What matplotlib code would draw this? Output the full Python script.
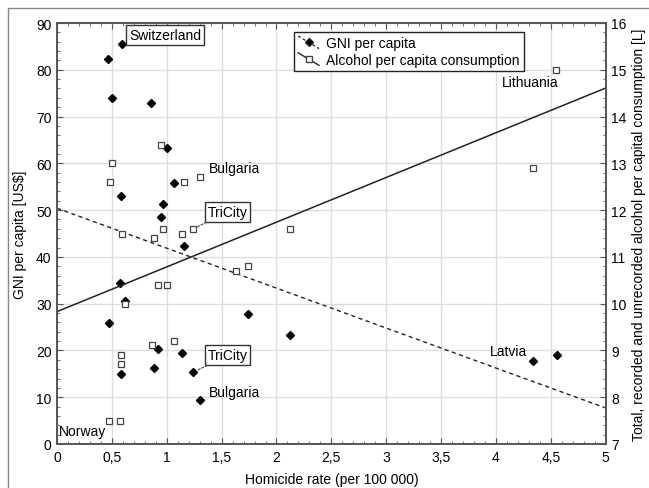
import numpy as np
import matplotlib
matplotlib.use('Agg')
from matplotlib import pyplot as plt
from matplotlib.lines import Line2D
from matplotlib.patches import Rectangle
from matplotlib.legend_handler import HandlerLine2D
from matplotlib.ticker import MultipleLocator, FuncFormatter

plt.rcParams['font.family'] = ['Liberation Sans', 'DejaVu Sans']
plt.rcParams['font.size'] = 9

# homicide rate vs GNI per capita (thousands US$)
gni_x = [0.59, 0.465, 0.50, 0.86, 1.003, 1.07, 0.583, 0.97, 0.948, 1.158, 0.574, 0.62,
         1.74, 0.477, 0.92, 1.14, 0.583, 0.88, 1.24, 1.30, 2.12, 4.34, 4.56]
gni_y = [85.5, 82.4, 73.9, 72.8, 63.2, 55.8, 53.1, 51.3, 48.6, 42.4, 34.5, 30.5,
         27.8, 25.8, 20.4, 19.4, 15.0, 16.2, 15.3, 9.5, 23.2, 17.8, 19.0]

# homicide rate vs alcohol consumption [L]
alc_x = [0.95, 0.50, 0.48, 1.16, 1.30, 0.59, 0.97, 1.14, 1.24, 0.88, 1.63, 1.74,
         0.92, 1.005, 0.62, 0.863, 1.07, 0.583, 0.583, 0.474, 0.574, 2.12, 4.34, 4.55]
alc_y = [13.4, 13.0, 12.6, 12.6, 12.7, 11.5, 11.6, 11.5, 11.6, 11.4, 10.7, 10.8,
         10.4, 10.4, 10.0, 9.11, 9.2, 8.9, 8.7, 7.5, 7.5, 11.6, 12.9, 15.0]

# fitted lines (intercept, slope)
gni_fit = (50.4, -8.54)
alc_fit = (9.83, 0.956)

x_ticks = [0, 0.5, 1, 1.5, 2, 2.5, 3, 3.5, 4, 4.5, 5]
gni_ticks = [0, 10, 20, 30, 40, 50, 60, 70, 80, 90]
alc_ticks = [7, 8, 9, 10, 11, 12, 13, 14, 15, 16]


class DiagHandler(HandlerLine2D):
    # legend sample drawn as a short falling line with the marker in the middle
    def create_artists(self, legend, orig_handle, xdescent, ydescent,
                       width, height, fontsize, trans):
        xs = [-xdescent, -xdescent + width]
        ys = [height - ydescent + 1, -ydescent - 1]
        line = Line2D(xs, ys)
        self.update_prop(line, orig_handle, legend)
        line.set_marker('None')
        mk = Line2D([np.mean(xs)], [np.mean(ys)])
        self.update_prop(mk, orig_handle, legend)
        mk.set_linestyle('None')
        line.set_transform(trans)
        mk.set_transform(trans)
        return [line, mk]


fig = plt.figure(figsize=(6.49, 4.89), dpi=100)
ax = fig.add_axes([57 / 649, 1 - 445 / 489, (605.7 - 57) / 649, (445 - 24) / 489])
ax2 = ax.twinx()

fig.patches.append(Rectangle((8 / 649, -0.1), 1.2, 1 - 9 / 489 + 0.1,
                             transform=fig.transFigure, fill=False,
                             edgecolor='#888888', lw=1.0))

xs = np.array([0, 5])
ax.plot(xs, gni_fit[0] + gni_fit[1] * xs, color='#222222', lw=1.0,
        ls=(0, (3, 2.5)), zorder=2)
ax2.plot(xs, alc_fit[0] + alc_fit[1] * xs, color='#222222', lw=1.1, zorder=2)

ax.plot(gni_x, gni_y, ls='None', marker='D', ms=4.2, color='black', zorder=3)
ax2.plot(alc_x, alc_y, ls='None', marker='s', ms=4.4, mfc='white',
         mec='#444444', mew=0.9, zorder=3)

ax.set_xlim(0, 5)
ax.set_ylim(0, 90)
ax2.set_ylim(7, 16)
ax.set_xticks(x_ticks)
ax.set_yticks(gni_ticks)
ax2.set_yticks(alc_ticks)
comma = FuncFormatter(lambda v, p: f'{v:g}'.replace('.', ','))
ax.xaxis.set_major_formatter(comma)
ax.xaxis.set_minor_locator(MultipleLocator(0.1))
ax.yaxis.set_minor_locator(MultipleLocator(2))
ax2.yaxis.set_minor_locator(MultipleLocator(0.2))

ax.grid(True, which='major', color='#dddddd', lw=1.0, zorder=0)
ax.set_axisbelow(True)

for a in (ax, ax2):
    for s in a.spines.values():
        s.set_color('#555555')
        s.set_linewidth(1.2)
    a.tick_params(which='major', direction='in', length=4, color='#555555',
                  labelsize=10, pad=4)
    a.tick_params(which='minor', direction='in', length=2, color='#555555')
ax.tick_params(which='both', top=True)

ax.set_xlabel('Homicide rate (per 100 000)', fontsize=10, labelpad=6)
ax.set_ylabel('GNI per capita [US$]', fontsize=10, labelpad=6)
ax2.set_ylabel('Total, recorded and unrecorded alcohol per capital consumption [L]',
               fontsize=10, labelpad=4)

box = dict(boxstyle='square,pad=0.2', fc='white', ec='#333333', lw=1.0)
ax.text(0.985, 87.4, 'Switzerland', ha='center', va='center', fontsize=10, bbox=box)
ax.annotate('TriCity', xy=(1.24, 46.0), xytext=(1.553, 49.6), ha='center', va='center',
            fontsize=10, bbox=box,
            arrowprops=dict(arrowstyle='-', ls=(0, (2, 1.5)), color='#444444',
                            lw=0.8, shrinkA=0, shrinkB=3))
ax.annotate('TriCity', xy=(1.24, 15.3), xytext=(1.556, 19.0), ha='center', va='center',
            fontsize=10, bbox=box,
            arrowprops=dict(arrowstyle='-', ls=(0, (2, 1.5)), color='#444444',
                            lw=0.8, shrinkA=0, shrinkB=3))
ax.text(1.38, 59.0, 'Bulgaria', ha='left', va='center', fontsize=10)
ax.text(1.38, 11.2, 'Bulgaria', ha='left', va='center', fontsize=10)
ax.text(4.57, 77.3, 'Lithuania', ha='right', va='center', fontsize=10)
ax.text(4.28, 19.9, 'Latvia', ha='right', va='center', fontsize=10)
ax.text(0.02, 2.85, 'Norway', ha='left', va='center', fontsize=10)

h1 = Line2D([], [], color='#222222', ls=(0, (2, 2)), lw=1.0, marker='D', ms=4, mfc='black')
h2 = Line2D([], [], color='#222222', lw=1.0, marker='s', ms=4, mfc='white', mec='#444444')
leg = fig.legend([h1, h2], ['GNI per capita', 'Alcohol per capita consumption'],
                 loc='upper left', bbox_to_anchor=(294 / 649, 1 - 33 / 489),
                 handler_map={Line2D: DiagHandler()}, fontsize=10,
                 fancybox=False, framealpha=1, edgecolor='#222222',
                 handlelength=1.5, handletextpad=0.5, borderpad=0.3,
                 labelspacing=0.2, borderaxespad=0)
leg.get_frame().set_linewidth(1.0)

fig.savefig('out.png', dpi=100)
